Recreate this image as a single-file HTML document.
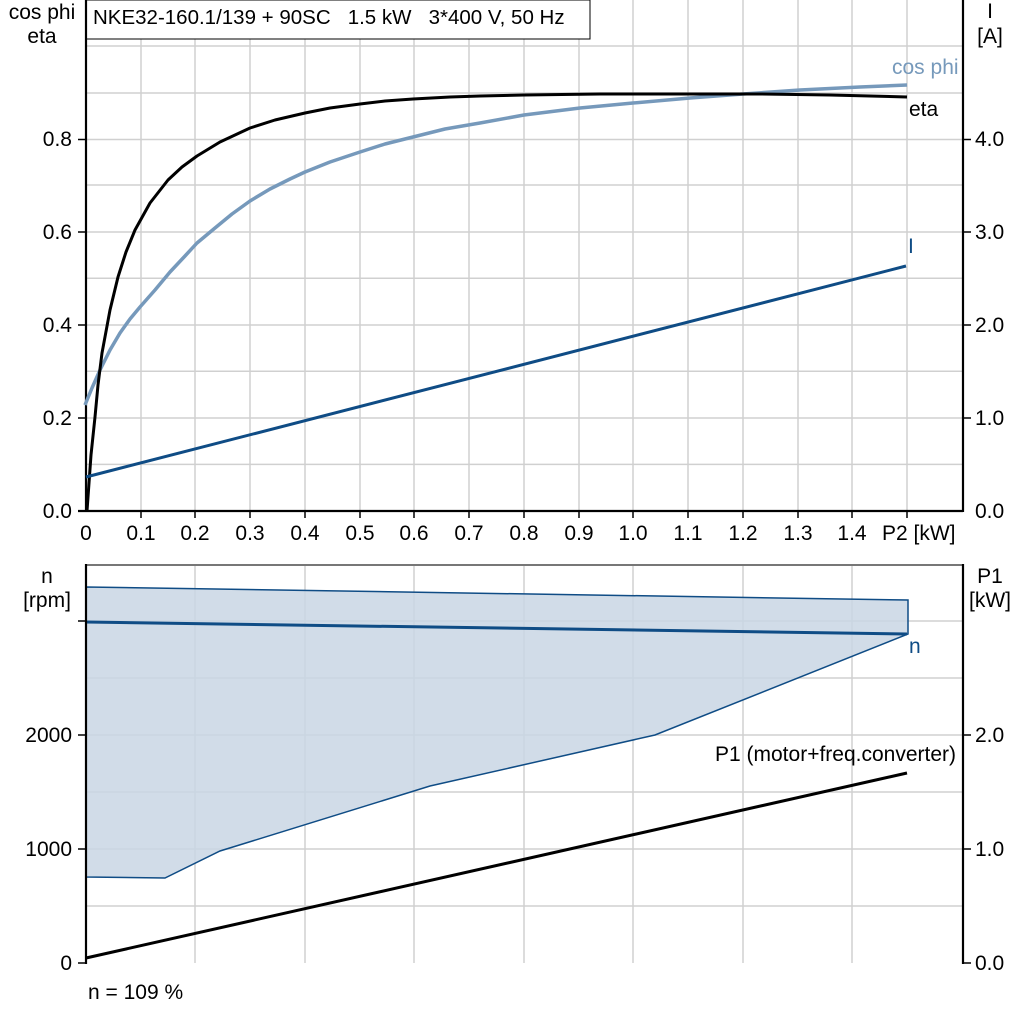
<!DOCTYPE html>
<html><head><meta charset="utf-8"><style>
html,body{margin:0;padding:0;background:#fff;}
svg{display:block;font-family:"Liberation Sans",Arial,sans-serif;}
</style></head><body>
<svg width="1024" height="1024" viewBox="0 0 1024 1024" xmlns="http://www.w3.org/2000/svg">
<rect width="1024" height="1024" fill="#fff"/>
<g stroke="#d0d0d0" stroke-width="1.5">
<line x1="141" y1="0" x2="141" y2="511"/><line x1="195" y1="0" x2="195" y2="511"/><line x1="250" y1="0" x2="250" y2="511"/><line x1="305" y1="0" x2="305" y2="511"/><line x1="360" y1="0" x2="360" y2="511"/><line x1="414" y1="0" x2="414" y2="511"/><line x1="469" y1="0" x2="469" y2="511"/><line x1="524" y1="0" x2="524" y2="511"/><line x1="579" y1="0" x2="579" y2="511"/><line x1="633" y1="0" x2="633" y2="511"/><line x1="688" y1="0" x2="688" y2="511"/><line x1="743" y1="0" x2="743" y2="511"/><line x1="798" y1="0" x2="798" y2="511"/><line x1="852" y1="0" x2="852" y2="511"/><line x1="907" y1="0" x2="907" y2="511"/>
<line x1="86" y1="464.4" x2="963" y2="464.4"/><line x1="86" y1="418" x2="963" y2="418"/><line x1="86" y1="371.3" x2="963" y2="371.3"/><line x1="86" y1="325" x2="963" y2="325"/><line x1="86" y1="278.2" x2="963" y2="278.2"/><line x1="86" y1="232" x2="963" y2="232"/><line x1="86" y1="185" x2="963" y2="185"/><line x1="86" y1="139.5" x2="963" y2="139.5"/><line x1="86" y1="93" x2="963" y2="93"/><line x1="86" y1="46" x2="963" y2="46"/>
</g>
<rect x="86" y="0" width="504" height="39" fill="#fff" stroke="#000" stroke-width="1"/>
<text x="93" y="24" font-size="20.5" xml:space="preserve" style="white-space:pre">NKE32-160.1/139 + 90SC   1.5 kW   3*400 V, 50 Hz</text>
<g stroke="#000" stroke-width="2.2" fill="none">
<line x1="86" y1="0" x2="86" y2="512"/><line x1="963" y1="0" x2="963" y2="512"/><line x1="78" y1="511" x2="963" y2="511"/>
</g>
<g stroke="#000" stroke-width="1.5">
<line x1="78" y1="418" x2="86" y2="418"/><line x1="78" y1="325" x2="86" y2="325"/><line x1="78" y1="232" x2="86" y2="232"/><line x1="78" y1="139.5" x2="86" y2="139.5"/>
<line x1="963" y1="418" x2="971" y2="418"/><line x1="963" y1="325" x2="971" y2="325"/><line x1="963" y1="232" x2="971" y2="232"/><line x1="963" y1="139.5" x2="971" y2="139.5"/>
<line x1="141" y1="511" x2="141" y2="518"/><line x1="195" y1="511" x2="195" y2="518"/><line x1="250" y1="511" x2="250" y2="518"/><line x1="305" y1="511" x2="305" y2="518"/><line x1="360" y1="511" x2="360" y2="518"/><line x1="414" y1="511" x2="414" y2="518"/><line x1="469" y1="511" x2="469" y2="518"/><line x1="524" y1="511" x2="524" y2="518"/><line x1="579" y1="511" x2="579" y2="518"/><line x1="633" y1="511" x2="633" y2="518"/><line x1="688" y1="511" x2="688" y2="518"/><line x1="743" y1="511" x2="743" y2="518"/><line x1="798" y1="511" x2="798" y2="518"/><line x1="852" y1="511" x2="852" y2="518"/><line x1="907" y1="511" x2="907" y2="518"/>
</g>
<g font-size="21" text-anchor="end">
<text x="72" y="518">0.0</text><text x="72" y="425">0.2</text><text x="72" y="332">0.4</text><text x="72" y="239">0.6</text><text x="72" y="146">0.8</text>
</g>
<g font-size="21" text-anchor="start">
<text x="975" y="518">0.0</text><text x="975" y="425">1.0</text><text x="975" y="332">2.0</text><text x="975" y="239">3.0</text><text x="975" y="146">4.0</text>
</g>
<g font-size="21" text-anchor="middle">
<text x="86" y="540">0</text><text x="141" y="540">0.1</text><text x="195" y="540">0.2</text><text x="250" y="540">0.3</text><text x="305" y="540">0.4</text><text x="360" y="540">0.5</text><text x="414" y="540">0.6</text><text x="469" y="540">0.7</text><text x="524" y="540">0.8</text><text x="579" y="540">0.9</text><text x="633" y="540">1.0</text><text x="688" y="540">1.1</text><text x="743" y="540">1.2</text><text x="798" y="540">1.3</text><text x="852" y="540">1.4</text>
<text x="42" y="19">cos phi</text><text x="42" y="43">eta</text>
<text x="990" y="18">I</text><text x="990" y="43">[A]</text>
</g>
<text x="882" y="540" font-size="21">P2 [kW]</text>
<polyline points="85,405 92,388 100,370 110,350 120,333 130,319 140,307 155,290 170,272 185,256 197,243 215,228 232,214 250,201 270,189 290,179 305,172 330,162 360,152 385,144 413,137 445,129 480,123 524,115 580,108 633,103 690,98 743,94 800,90 860,87 907,85" fill="none" stroke="#7699bb" stroke-width="3.5" stroke-linejoin="round"/>
<polyline points="87,511 91,455 95,417 98,385 102,353 110,310 118,277 126,252 135,230 150,203 168,180 182,167 197,156 220,142 250,128 275,120 305,113 330,108 360,104 385,101 413,99 450,97 480,96 524,95 600,94 700,94 760,94 830,95 870,96 907,97" fill="none" stroke="#000" stroke-width="3" stroke-linejoin="round"/>
<line x1="86" y1="477" x2="906" y2="266" stroke="#0f4c85" stroke-width="3"/>
<text x="892" y="74" font-size="21" fill="#7699bb">cos phi</text>
<text x="909" y="116" font-size="21">eta</text>
<text x="908" y="253" font-size="21" fill="#0f4c85">I</text>

<g stroke="#d0d0d0" stroke-width="1.5">
<line x1="195" y1="565" x2="195" y2="963"/><line x1="305" y1="565" x2="305" y2="963"/><line x1="414" y1="565" x2="414" y2="963"/><line x1="524" y1="565" x2="524" y2="963"/><line x1="633" y1="565" x2="633" y2="963"/><line x1="743" y1="565" x2="743" y2="963"/><line x1="852" y1="565" x2="852" y2="963"/>
<line x1="86" y1="906" x2="963" y2="906"/><line x1="86" y1="849" x2="963" y2="849"/><line x1="86" y1="792" x2="963" y2="792"/><line x1="86" y1="735" x2="963" y2="735"/><line x1="86" y1="678" x2="963" y2="678"/><line x1="86" y1="621" x2="963" y2="621"/>
</g>
<line x1="86" y1="565" x2="963" y2="565" stroke="#777" stroke-width="2"/>
<polygon points="86,587 908,600 908,634 655,735 430,786 220,851 165,878 86,877" fill="#c9d6e4" fill-opacity="0.85" stroke="#0f4c85" stroke-width="1.5"/>
<line x1="86" y1="622" x2="907" y2="634" stroke="#0f4c85" stroke-width="3"/>
<line x1="86" y1="958" x2="907" y2="773" stroke="#000" stroke-width="3"/>
<g stroke="#000" stroke-width="2.2"><line x1="86" y1="564" x2="86" y2="964"/><line x1="963" y1="564" x2="963" y2="964"/></g>
<g stroke="#000" stroke-width="1.5">
<line x1="78" y1="963" x2="86" y2="963"/><line x1="78" y1="849" x2="86" y2="849"/><line x1="78" y1="735" x2="86" y2="735"/><line x1="78" y1="621" x2="86" y2="621"/>
<line x1="963" y1="963" x2="971" y2="963"/><line x1="963" y1="849" x2="971" y2="849"/><line x1="963" y1="735" x2="971" y2="735"/>
</g>
<g font-size="21" text-anchor="end">
<text x="72" y="970">0</text><text x="72" y="856">1000</text><text x="72" y="742">2000</text>
</g>
<g font-size="21"><text x="975" y="970">0.0</text><text x="975" y="856">1.0</text><text x="975" y="742">2.0</text></g>
<g font-size="21" text-anchor="middle">
<text x="47" y="583">n</text><text x="47" y="607">[rpm]</text>
<text x="990" y="583">P1</text><text x="990" y="607">[kW]</text>
</g>
<text x="909" y="653" font-size="21" fill="#0f4c85">n</text>
<text x="715" y="761" font-size="21">P1 (motor+freq.converter)</text>
<text x="88" y="999" font-size="21">n = 109 %</text>
</svg>
</body></html>
